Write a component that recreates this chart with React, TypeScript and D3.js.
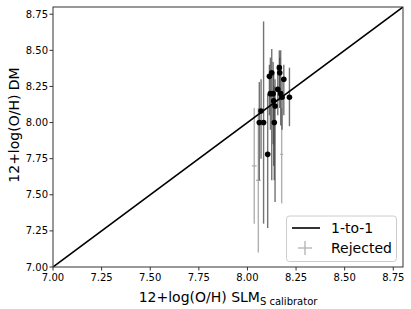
import React from "react";
import * as d3 from "d3";

const ticks = [7.0, 7.25, 7.5, 7.75, 8.0, 8.25, 8.5, 8.75];
const domain: [number, number] = [7.0, 8.8];

// accepted points: x, y, y lower bound, y upper bound
const accX = [8.061, 8.070, 8.083, 8.104, 8.113, 8.118, 8.125, 8.132, 8.135, 8.142, 8.138, 8.156, 8.164, 8.166, 8.171, 8.178, 8.187, 8.216];
const accY = [8.00, 8.08, 8.00, 7.78, 8.32, 8.20, 8.345, 8.20, 8.15, 8.115, 8.00, 8.23, 8.38, 8.345, 8.20, 8.175, 8.30, 8.175];
const accLo = [7.60, 7.75, 7.30, 7.27, 8.05, 7.95, 7.60, 7.85, 7.70, 7.45, 7.60, 8.05, 8.15, 8.10, 7.98, 7.95, 8.05, 7.975];
const accHi = [8.28, 8.30, 8.70, 8.20, 8.40, 8.45, 8.51, 8.42, 8.35, 8.30, 8.25, 8.40, 8.50, 8.45, 8.50, 8.30, 8.40, 8.38];

// rejected points
const rejX = [8.035, 8.056, 8.176];
const rejY = [7.70, 7.60, 7.78];
const rejLo = [7.30, 7.10, 7.44];
const rejHi = [8.10, 8.10, 8.10];
const rejXerr = [0.012, 0.012, 0.008];

const W = 411, H = 309;
const L = 53, R = 403, T = 7, B = 267;

export default function App() {
  const x = d3.scaleLinear().domain(domain).range([L, R]);
  const y = d3.scaleLinear().domain(domain).range([B, T]);
  const font = "DejaVu Sans, sans-serif";
  const spine = "#333";
  return (
    <svg width={W} height={H} style={{ position: "absolute", left: 0, top: 0 }} fontFamily={font}>
      <rect x={0} y={0} width={W} height={H} fill="#fff" />
      <defs>
        <clipPath id="plot">
          <rect x={L} y={T} width={R - L} height={B - T} />
        </clipPath>
      </defs>
      <g clipPath="url(#plot)">
        {rejX.map((v, i) => (
          <g key={"r" + i} stroke="#b0b0b0" strokeWidth={1.4}>
            <line x1={x(v)} x2={x(v)} y1={y(rejLo[i])} y2={y(rejHi[i])} />
            <line x1={x(v - rejXerr[i])} x2={x(v + rejXerr[i])} y1={y(rejY[i])} y2={y(rejY[i])} />
          </g>
        ))}
        {accX.map((v, i) => (
          <line key={"a" + i} x1={x(v)} x2={x(v)} y1={y(accLo[i])} y2={y(accHi[i])} stroke="#444" strokeOpacity={0.75} strokeWidth={1.4} />
        ))}
        <line x1={x(domain[0])} y1={y(domain[0])} x2={x(domain[1])} y2={y(domain[1])} stroke="#000" strokeWidth={1.6} />
        {accX.map((v, i) => (
          <circle key={"c" + i} cx={x(v)} cy={y(accY[i])} r={2.8} fill="#000" />
        ))}
      </g>
      <rect x={L} y={T} width={R - L} height={B - T} fill="none" stroke={spine} strokeWidth={1} />
      {ticks.map((t) => (
        <g key={"x" + t}>
          <line x1={x(t)} x2={x(t)} y1={B} y2={B + 3.5} stroke={spine} />
          <text x={x(t)} y={B + 14} fontSize={10} textAnchor="middle" fill="#000">{t.toFixed(2)}</text>
        </g>
      ))}
      {ticks.map((t) => (
        <g key={"y" + t}>
          <line x1={L} x2={L - 3.5} y1={y(t)} y2={y(t)} stroke={spine} />
          <text x={L - 5} y={y(t) + 3.5} fontSize={10} textAnchor="end" fill="#000">{t.toFixed(2)}</text>
        </g>
      ))}
      <text x={228} y={302} fontSize={14} textAnchor="middle" fill="#000">
        12+log(O/H) SLM
        <tspan fontSize={10} dy={3}>S calibrator</tspan>
      </text>
      <text transform={`translate(19,${125}) rotate(-90)`} fontSize={14} textAnchor="middle" fill="#000">12+log(O/H) DM</text>
      <g>
        <rect x={286.5} y={216} width={110} height={45.5} rx={3} fill="#fff" fillOpacity={0.8} stroke="#ccc" />
        <line x1={292} x2={320} y1={228} y2={228} stroke="#000" strokeWidth={1.6} />
        <text x={331} y={233} fontSize={14} fill="#000">1-to-1</text>
        <line x1={298} x2={312} y1={248} y2={248} stroke="#b0b0b0" strokeWidth={1.3} />
        <line x1={305} x2={305} y1={241} y2={255} stroke="#b0b0b0" strokeWidth={1.3} />
        <text x={331} y={253} fontSize={14} fill="#000">Rejected</text>
      </g>
    </svg>
  );
}
